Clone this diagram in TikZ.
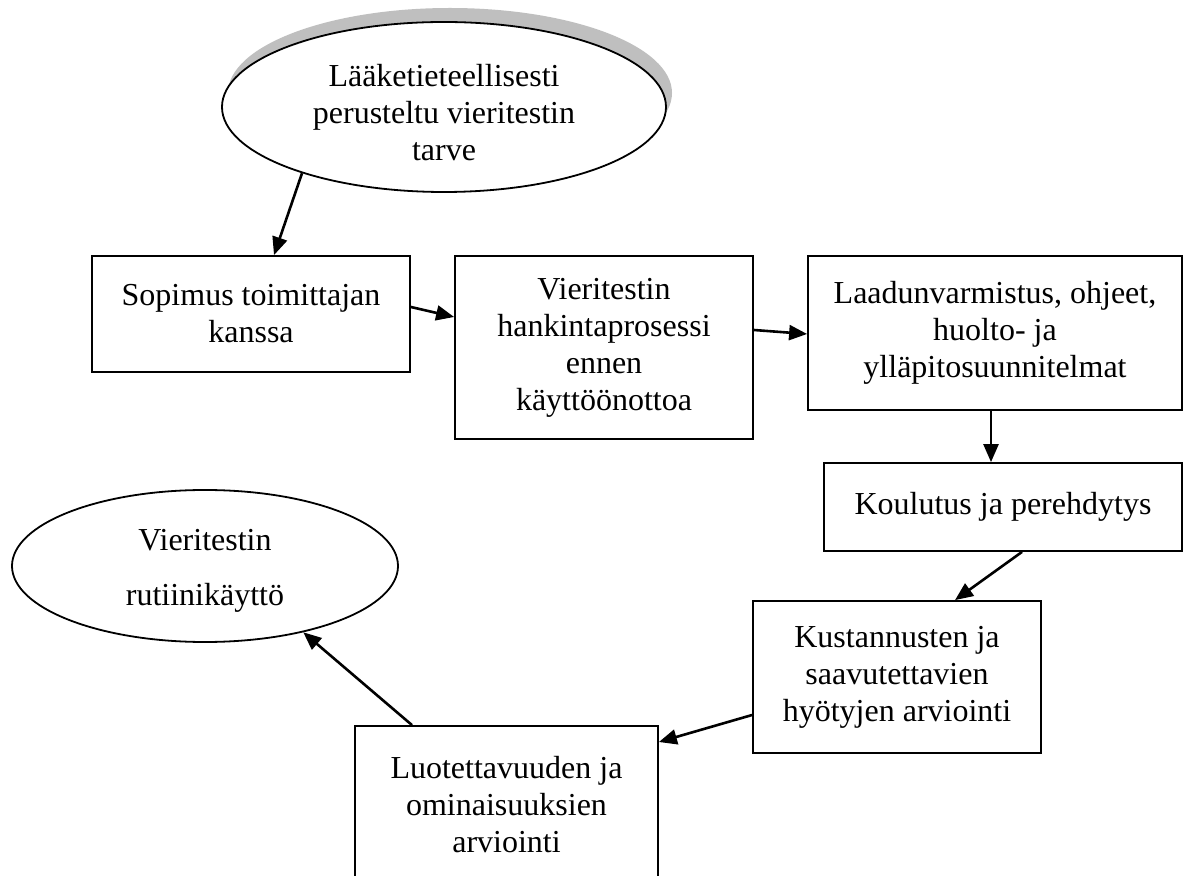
\documentclass[tikz,border=0pt]{standalone}
\usepackage{fontspec}
\setmainfont{Liberation Serif}
\usetikzlibrary{arrows.meta,shapes.geometric}
\tikzset{
  boxnode/.style={draw=black, line width=0.9pt, fill=white, rectangle, align=center, inner sep=0pt,
    font=\fontsize{16}{18.5}\selectfont},
  ovalnode/.style={draw=black, line width=0.9pt, fill=white, ellipse, align=center, inner sep=0pt,
    font=\fontsize{16}{18.5}\selectfont},
  shadownode/.style={fill=black!25, draw=none, ellipse, inner sep=0pt},
  arr/.style={line width=1.3pt, -{Triangle[length=9pt,width=7.5pt]}}
}
\begin{document}
\begin{tikzpicture}[x=0.5pt,y=-0.5pt]
\useasboundingbox (0,0) rectangle (1183,876);
\clip (0,0) rectangle (1183,876);
\fill[white] (0,0) rectangle (1183,876);
% top ellipse with shadow
\node[shadownode, minimum width=222pt, minimum height=85pt] (e1s) at (450,93) {};
\node[ovalnode, minimum width=222pt, minimum height=85pt] (e1) at (444,107) {};
\node[align=center, inner sep=0pt, font=\fontsize{16}{18.5}\selectfont] (e1t) at (444,113) {Lääketieteellisesti\\perusteltu vieritestin\\tarve};
% boxes
\node[boxnode, minimum width=159pt, minimum height=58pt] (b1) at (251,314) {Sopimus toimittajan\\kanssa};
\node[boxnode, minimum width=149pt, minimum height=91.5pt] (b2) at (604,347.5) {Vieritestin\\hankintaprosessi\\ennen\\käyttöönottoa};
\node[boxnode, minimum width=187pt, minimum height=77pt] (b3) at (995,333) {Laadunvarmistus, ohjeet,\\huolto- ja\\ylläpitosuunnitelmat};
\node[boxnode, minimum width=179pt, minimum height=44pt] (b4) at (1003,507) {Koulutus ja perehdytys};
\node[boxnode, minimum width=144pt, minimum height=76pt] (b5) at (897,677) {Kustannusten ja\\saavutettavien\\hyötyjen arviointi};
\node[boxnode, minimum width=151.5pt, minimum height=79pt] (b6) at (506.5,805) {Luotettavuuden ja\\ominaisuuksien\\arviointi};
% bottom-left ellipse
\node[ovalnode, minimum width=193pt, minimum height=76pt] (e2) at (205,566) {};
\node[align=center, inner sep=0pt, font=\fontsize{16}{27.5}\selectfont] (e2t) at (205,571) {Vieritestin\\rutiinikäyttö};
% connectors
\draw[arr] (e1.205.6) -- ([xshift=11.5pt]b1.north);
\draw[arr] ([yshift=3.5pt]b1.east) -- ([yshift=15.25pt]b2.west);
\draw[arr] ([yshift=8.75pt]b2.east) -- ([yshift=-0.5pt]b3.west);
\draw[arr] ([xshift=-2pt]b3.south) -- ([xshift=-2pt]b3.south |- b4.north);
\draw[arr] ([xshift=9.5pt]b4.south) -- ([xshift=29pt]b5.north);
\draw[arr] ([yshift=-19pt]b5.west) -- ([yshift=31.5pt]b6.east);
\draw[arr] ([xshift=-47.25pt]b6.north) -- (e2.-34);
\end{tikzpicture}
\end{document}
